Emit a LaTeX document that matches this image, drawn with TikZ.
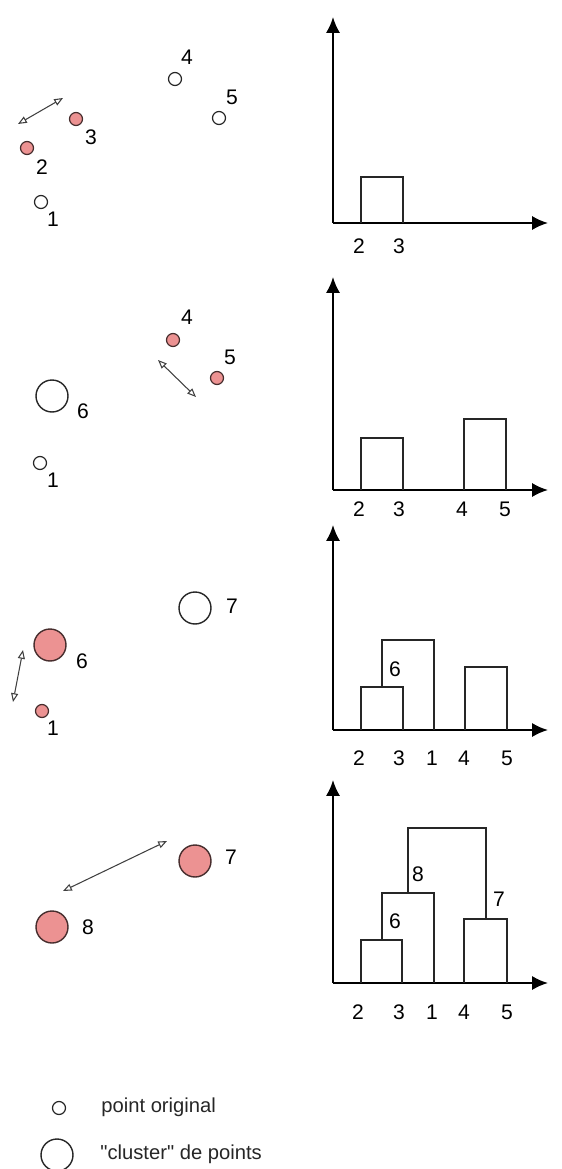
\documentclass[tikz,border=0pt]{standalone}
\usepackage{fontspec}
\setmainfont{Liberation Sans}[Ligatures=TeXOff]
\usetikzlibrary{arrows.meta, positioning}
\definecolor{clpink}{RGB}{236,146,146}
\definecolor{clline}{RGB}{70,45,45}

\begin{document}
\begin{tikzpicture}[
        x=0.02cm, y=-0.02cm, >=Latex,
        every node/.style={font=\fontsize{12}{14}\selectfont},
        pt/.style={circle, draw=black!85, line width=0.7pt, minimum size=0.26cm, inner sep=0pt},
        ptsel/.style={pt, fill=clpink, draw=clline},
        clu/.style={circle, draw=black!85, line width=0.8pt, minimum size=0.64cm, inner sep=0pt},
        clusel/.style={clu, fill=clpink, draw=clline},
        num/.style={inner sep=0pt},
        axis/.style={draw, line width=1.2pt, -{Latex[length=9pt,width=8pt]}},
        bar/.style={draw, line width=0.8pt, black!85},
        dist/.style={draw, black!75, line width=0.6pt, {Triangle[open,length=5pt,width=4pt]}-{Triangle[open,length=5pt,width=4pt]}},
        legend/.style={anchor=west, inner sep=0pt, black!85, font=\fontsize{11.5}{13}\selectfont},
    ]
    \useasboundingbox (0,0) rectangle (561,1169);

    % Step 1
    \node [pt] (a1) at (41,202) {};
    \node [ptsel] (a2) at (27,148) {};
    \node [ptsel] (a3) at (76,119) {};
    \node [pt] (a4) at (175,79) {};
    \node [pt] (a5) at (219,118) {};
    \node [num] at (53,219) {1};
    \node [num] at (42,167) {2};
    \node [num] at (91,137) {3};
    \node [num] at (187,57) {4};
    \node [num] at (232,97) {5};
    \coordinate (a23s) at (18,124);
    \coordinate (a23e) at (63,98);
    \path [dist] (a23s) -- (a23e);

    % Step 2
    \node [clu] (b6) at (52,396) {};
    \node [pt] (b1) at (40,463) {};
    \node [ptsel] (b4) at (173,340) {};
    \node [ptsel] (b5) at (217,378) {};
    \node [num] at (83,411) {6};
    \node [num] at (53,480) {1};
    \node [num] at (187,317) {4};
    \node [num] at (230,357) {5};
    \coordinate (b45s) at (158,360);
    \coordinate (b45e) at (196,397);
    \path [dist] (b45s) -- (b45e);

    % Step 3
    \node [clusel] (c6) at (50,645) {};
    \node [ptsel] (c1) at (42,711) {};
    \node [clu] (c7) at (195,608) {};
    \node [num] at (82,661) {6};
    \node [num] at (53,728) {1};
    \node [num] at (232,606) {7};
    \coordinate (c61s) at (23,650);
    \coordinate (c61e) at (13,702);
    \path [dist] (c61s) -- (c61e);

    % Step 4
    \node [clusel] (d7) at (195,861) {};
    \node [clusel] (d8) at (52,927) {};
    \node [num] at (231,857) {7};
    \node [num] at (88,927) {8};
    \coordinate (d78s) at (167,841);
    \coordinate (d78e) at (63,891);
    \path [dist] (d78s) -- (d78e);

    % Axes
    \foreach \ya/\yt in {223/17, 490/277, 730/525, 983/780} {
        \path [axis] (333,\ya) -- (333,\yt);
        \path [axis] (333,\ya) -- (548,\ya);
    }

    % Dendrograms
    \path [bar] (361,223) -- (361,177) -- (403,177) -- (403,223);
    \node [num] at (359,246) {2};
    \node [num] at (399,246) {3};

    \path [bar] (361,490) -- (361,438) -- (403,438) -- (403,490);
    \path [bar] (464,490) -- (464,419) -- (506,419) -- (506,490);
    \node [num] at (359,509) {2};
    \node [num] at (399,509) {3};
    \node [num] at (462,509) {4};
    \node [num] at (505,509) {5};

    \path [bar] (361,730) -- (361,687) -- (403,687) -- (403,730);
    \path [bar] (382,687) -- (382,640) -- (434,640) -- (434,730);
    \path [bar] (465,730) -- (465,667) -- (507,667) -- (507,730);
    \node [num] at (395,669) {6};
    \node [num] at (359,758) {2};
    \node [num] at (399,758) {3};
    \node [num] at (432,758) {1};
    \node [num] at (464,758) {4};
    \node [num] at (507,758) {5};

    \path [bar] (361,983) -- (361,940) -- (402,940) -- (402,983);
    \path [bar] (382,940) -- (382,893) -- (434,893) -- (434,983);
    \path [bar] (408,893) -- (408,828) -- (486,828) -- (486,919);
    \path [bar] (464,983) -- (464,919) -- (507,919) -- (507,983);
    \node [num] at (395,921) {6};
    \node [num] at (418,874) {8};
    \node [num] at (499,899) {7};
    \node [num] at (358,1012) {2};
    \node [num] at (399,1012) {3};
    \node [num] at (432,1012) {1};
    \node [num] at (464,1012) {4};
    \node [num] at (507,1012) {5};

    % Legend
    \node [pt] (lgpt) at (59,1108) {};
    \node [clu] (lgclu) at (57,1155) {};
    \node [legend] at (101,1107) {point original};
    \node [legend] at (100,1154) {"cluster" de points};

\end{tikzpicture}
\end{document}
